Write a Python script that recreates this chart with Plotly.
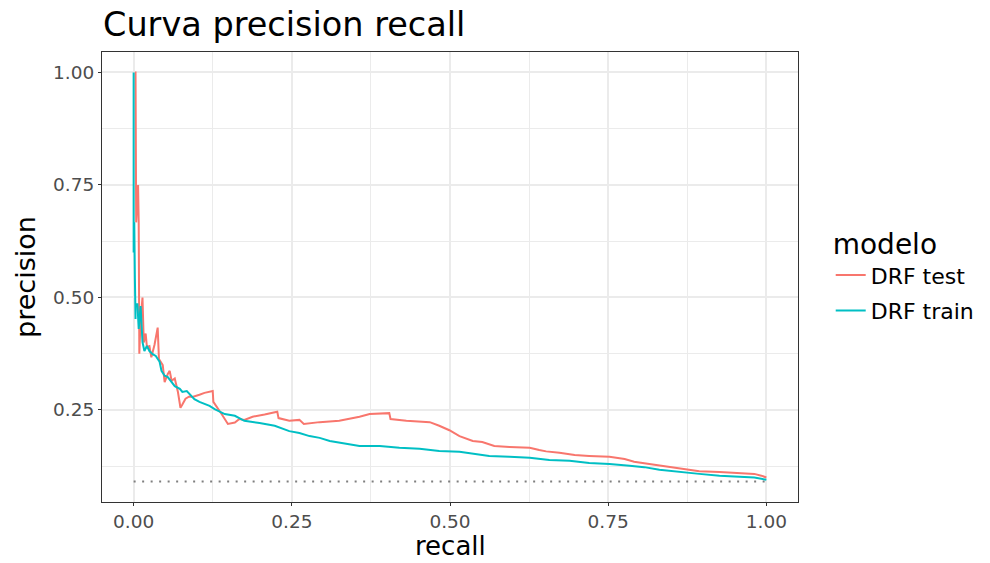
import plotly.graph_objects as go

# ---- data ----
recall_test = [0.002, 0.003, 0.004, 0.006, 0.007, 0.008, 0.009, 0.011, 0.014, 0.016,
               0.019, 0.021, 0.025, 0.028, 0.033, 0.038, 0.040, 0.046, 0.049, 0.054,
               0.057, 0.060, 0.065, 0.070, 0.074, 0.077, 0.082, 0.088, 0.093, 0.104,
               0.112, 0.125, 0.126, 0.139, 0.149, 0.160, 0.167, 0.175, 0.188, 0.207,
               0.227, 0.229, 0.246, 0.262, 0.269, 0.294, 0.325, 0.357, 0.373, 0.404,
               0.406, 0.431, 0.468, 0.483, 0.499, 0.515, 0.536, 0.551, 0.570, 0.594,
               0.626, 0.641, 0.652, 0.673, 0.697, 0.720, 0.752, 0.776, 0.791, 0.815,
               0.847, 0.878, 0.894, 0.926, 0.957, 0.981, 0.992, 1.000]
precision_test = [1.000, 1.000, 0.667, 0.750, 0.750, 0.667, 0.375, 0.450, 0.500, 0.400,
                  0.420, 0.390, 0.392, 0.367, 0.395, 0.433, 0.363, 0.350, 0.312, 0.330,
                  0.337, 0.315, 0.320, 0.290, 0.255, 0.262, 0.275, 0.280, 0.279, 0.284,
                  0.288, 0.292, 0.268, 0.241, 0.219, 0.222, 0.230, 0.228, 0.235, 0.240,
                  0.246, 0.232, 0.226, 0.228, 0.219, 0.223, 0.226, 0.235, 0.241, 0.243,
                  0.230, 0.226, 0.223, 0.215, 0.205, 0.192, 0.181, 0.179, 0.170, 0.168,
                  0.166, 0.161, 0.158, 0.155, 0.150, 0.148, 0.146, 0.141, 0.135, 0.130,
                  0.124, 0.117, 0.114, 0.112, 0.110, 0.108, 0.104, 0.100]

recall_train = [0.000, 0.000, 0.001, 0.002, 0.003, 0.003, 0.006, 0.008, 0.011, 0.014,
                0.017, 0.021, 0.025, 0.030, 0.035, 0.041, 0.044, 0.049, 0.054, 0.060,
                0.065, 0.073, 0.077, 0.084, 0.088, 0.096, 0.104, 0.120, 0.128, 0.136,
                0.144, 0.160, 0.175, 0.199, 0.223, 0.246, 0.262, 0.278, 0.294, 0.310,
                0.333, 0.357, 0.389, 0.420, 0.452, 0.483, 0.515, 0.539, 0.562, 0.594,
                0.626, 0.657, 0.689, 0.720, 0.752, 0.784, 0.807, 0.831, 0.863, 0.894,
                0.926, 0.957, 0.981, 1.000]
precision_train = [1.000, 0.600, 0.667, 0.541, 0.452, 0.485, 0.485, 0.430, 0.481, 0.401,
                   0.381, 0.392, 0.381, 0.374, 0.370, 0.357, 0.337, 0.326, 0.323, 0.312,
                   0.303, 0.297, 0.290, 0.292, 0.286, 0.274, 0.268, 0.259, 0.252, 0.246,
                   0.241, 0.237, 0.226, 0.221, 0.215, 0.203, 0.199, 0.192, 0.188, 0.181,
                   0.175, 0.170, 0.170, 0.166, 0.164, 0.159, 0.157, 0.152, 0.148, 0.146,
                   0.144, 0.139, 0.137, 0.132, 0.130, 0.126, 0.123, 0.117, 0.112, 0.108,
                   0.104, 0.101, 0.100, 0.095]

baseline_recall = [0.0, 1.0]
baseline_precision = [0.091, 0.091]

series_names = ["DRF test", "DRF train"]
series_colors = ["#F8766D", "#00BFC4"]
tick_vals = [0.0, 0.25, 0.5, 0.75, 1.0]
tick_text = ["0.00", "0.25", "0.50", "0.75", "1.00"]

FONT = "DejaVu Sans"

fig = go.Figure()
fig.add_trace(go.Scatter(x=baseline_recall, y=baseline_precision, mode="lines",
                         line=dict(color="#7F7F7F", width=2, dash="2px,6.5px"),
                         showlegend=False, hoverinfo="skip"))
for i, (xs, ys) in enumerate([(recall_test, precision_test), (recall_train, precision_train)]):
    fig.add_trace(go.Scatter(x=xs, y=ys, mode="lines", name=series_names[i],
                             legendgroup=series_names[i],
                             line=dict(color=series_colors[i], width=2)))

axis_common = dict(
    showline=True, mirror=True, linecolor="#333333", linewidth=1.1,
    ticks="outside", ticklen=3, tickcolor="#333333", tickwidth=1.1,
    showgrid=True, gridcolor="#EBEBEB", gridwidth=1.5,
    zeroline=False,
    tickvals=tick_vals, ticktext=tick_text,
    tickfont=dict(family=FONT, size=18.5, color="#4D4D4D"),
    minor=dict(dtick=0.125, tick0=0, showgrid=True, gridcolor="#EBEBEB", gridwidth=0.8, ticks=""),
)

fig.update_xaxes(range=[-0.05, 1.05], **axis_common)
fig.update_yaxes(range=[0.0455, 1.0455], title=dict(text="precision", font=dict(family=FONT, size=27, color="black"), standoff=9), **axis_common)

fig.add_annotation(text="recall", xref="paper", yref="paper", x=0.5, y=-(562 - 502) / 450.5,
                   xanchor="center", yanchor="bottom", showarrow=False, borderpad=0,
                   font=dict(family=FONT, size=26, color="black"))

fig.update_layout(
    width=990, height=563,
    margin=dict(l=102, r=192, t=52, b=61, autoexpand=False),
    paper_bgcolor="white", plot_bgcolor="white",
    title=dict(text="Curva precision recall", x=103/990, xref="container", xanchor="left",
               y=1 - 24/563, yref="container", yanchor="middle",
               font=dict(family=FONT, size=33.5, color="black")),
    legend=dict(x=1.047, xanchor="left", y=0.505, yanchor="middle",
                title=dict(text="modelo", font=dict(family=FONT, size=28, color="black")),
                font=dict(family=FONT, size=22, color="black"),
                tracegroupgap=4, bgcolor="rgba(0,0,0,0)"),
    font=dict(family=FONT),
)

fig.write_html("out.html")
